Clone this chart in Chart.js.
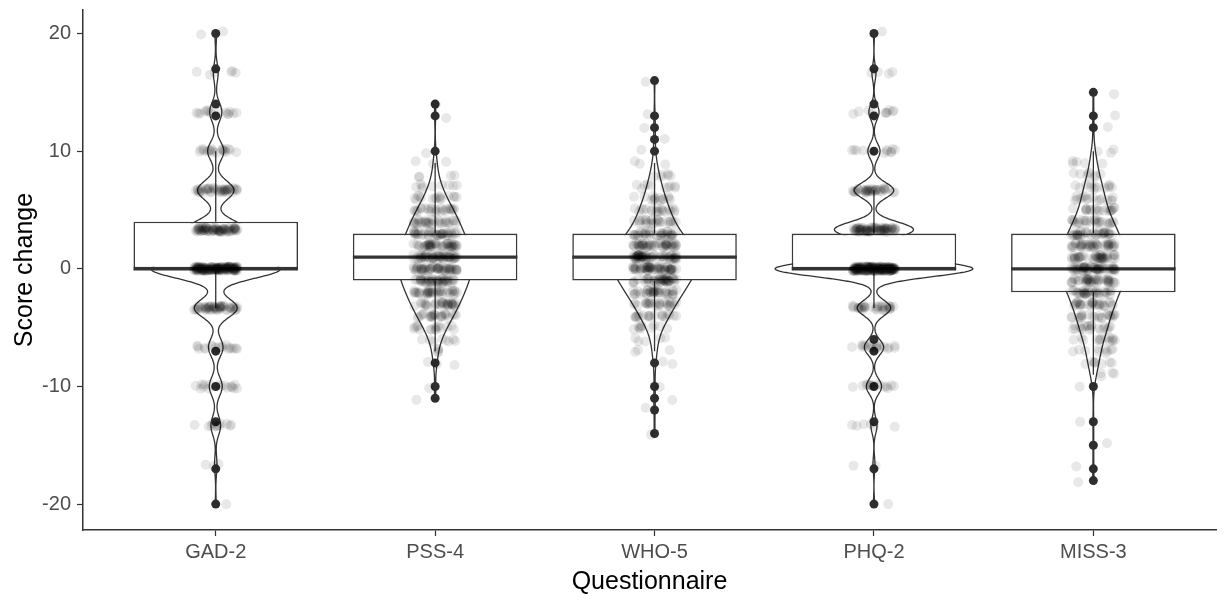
<!DOCTYPE html>
<html><head><meta charset="utf-8">
<script src="https://cdn.jsdelivr.net/npm/chart.js@4/dist/chart.umd.min.js"></script>
<style>html,body{margin:0;padding:0;background:#fff;}canvas{display:block;}</style>
</head><body>
<canvas id="c" width="1225" height="597"></canvas>
<script>
// ---------------- data ----------------
const categories = ['GAD-2', 'PSS-4', 'WHO-5', 'PHQ-2', 'MISS-3'];
const yTicks = [-20, -10, 0, 10, 20];

// box-plot statistics
const q1Values      = [0, -1, -1, 0, -2];
const medianValues  = [0, 1, 1, 0, 0];
const q3Values      = [4, 3, 3, 3, 3];
const whiskerLow    = [-3.33, -7, -7, -3.33, -9];
const whiskerHigh   = [10, 9, 9, 6.67, 10];
const gad2Outliers  = [20, 17, 14, 13, -7, -10, -13, -17, -20];
const pss4Outliers  = [14, 13, 10, -8, -10, -11];
const who5Outliers  = [16, 13, 12, 11, 10, -8, -10, -11, -12, -14];
const phq2Outliers  = [20, 17, 14, 13, 10, -6, -7, -10, -13, -17, -20];
const miss3Outliers = [15, 13, 12, -10, -13, -15, -17, -18];

// observed score changes (value -> number of respondents), estimated from the jittered points / violins
const gad2Values  = [-20, -16.67, -13.33, -10, -6.67, -3.33, 0, 3.33, 6.67, 10, 13.33, 16.67, 20];
const gad2Counts  = [1, 3, 12, 16, 18, 53, 160, 72, 45, 20, 15, 6, 2];
const pss4Values  = [-11,-10,-9,-8,-7,-6,-5,-4,-3,-2,-1,0,1,2,3,4,5,6,7,8,9,10,11,12,13,14];
const pss4Counts  = [1,1,0,3,4,8,16,25,33,40,46,51,52,46,39,33,25,16,9,4,3,1,0,0,1,1];
const who5Values  = [-14,-13,-12,-11,-10,-9,-8,-7,-6,-5,-4,-3,-2,-1,0,1,2,3,4,5,6,7,8,9,10,11,12,13,14,15,16];
const who5Counts  = [1,0,1,1,1,0,2,3,5,10,20,27,38,46,57,59,48,35,25,20,14,10,6,3,1,1,1,1,0,0,1];
const phq2Values  = [-20, -16.67, -13.33, -10, -6.67, -3.33, 0, 3.33, 6.67, 10, 13.33, 16.67, 20];
const phq2Counts  = [1, 2, 6, 15, 19, 33, 195, 78, 39, 12, 10, 4, 1];
const miss3Values = [-18,-17,-16,-15,-14,-13,-12,-11,-10,-9,-8,-7,-6,-5,-4,-3,-2,-1,0,1,2,3,4,5,6,7,8,9,10,11,12,13,14,15];
const miss3Counts = [1,1,0,1,0,1,0,0,1,4,8,10,14,20,23,30,35,42,55,43,42,35,27,20,16,13,8,5,3,0,1,1,0,1];
// kernel bandwidths of the violins
const bandwidths = [0.8, 0.85, 0.85, 0.65, 0.9];

// ---------------- style ----------------
const FONT = "'Liberation Sans', Arial, sans-serif";
const DARK = '#333333';
const BOX_WIDTH = 0.75, VIOLIN_WIDTH = 0.9, JITTER_W = 0.1, JITTER_H = 0.2;

const allValues = [gad2Values, pss4Values, who5Values, phq2Values, miss3Values];
const allCounts = [gad2Counts, pss4Counts, who5Counts, phq2Counts, miss3Counts];
const allOutliers = [gad2Outliers, pss4Outliers, who5Outliers, phq2Outliers, miss3Outliers];

// ---------------- derived layers ----------------
function density(vals, cnts, h, y) {
  let n = 0, s = 0;
  for (let k = 0; k < vals.length; k++) {
    const c = cnts[k]; if (!c) continue;
    n += c; const z = (y - vals[k]) / h; s += c * Math.exp(-0.5 * z * z);
  }
  return s / (n * h * Math.sqrt(2 * Math.PI));
}
const GRID = 512;
const dens = allValues.map((vals, g) => {
  const cnts = allCounts[g];
  const present = vals.filter((v, k) => cnts[k] > 0);
  const lo = Math.min(...present), hi = Math.max(...present);
  const ys = [], fs = [];
  for (let j = 0; j < GRID; j++) {
    const y = lo + (hi - lo) * j / (GRID - 1);
    ys.push(y); fs.push(density(vals, cnts, bandwidths[g], y));
  }
  return { ys, fs };
});
const fMax = Math.max(...dens.map(d => Math.max(...d.fs)));

const violinDatasets = dens.map((d, g) => {
  const right = d.ys.map((y, j) => ({ x: g + VIOLIN_WIDTH / 2 * d.fs[j] / fMax, y }));
  const left = d.ys.map((y, j) => ({ x: g - VIOLIN_WIDTH / 2 * d.fs[j] / fMax, y })).reverse();
  const pts = right.concat(left); pts.push(right[0]);
  return { type: 'line', data: pts, borderColor: DARK, borderWidth: 1.3, pointRadius: 0,
           fill: false, tension: 0.001, order: 5 };
});

const whiskerPts = [];
categories.forEach((c, g) => {
  whiskerPts.push({ x: g, y: q3Values[g] }, { x: g, y: whiskerHigh[g] }, { x: g, y: null },
                  { x: g, y: q1Values[g] }, { x: g, y: whiskerLow[g] }, { x: g, y: null });
});

// deterministic jitter offsets (layout only)
const hash = (a, b) => { const s = Math.sin(a * 12.9898 + b * 78.233) * 43758.5453; return s - Math.floor(s); };
const jitterPts = [];
allValues.forEach((vals, g) => {
  let k = 0;
  vals.forEach((v, i) => {
    for (let r = 0; r < allCounts[g][i]; r++, k++) {
      const u = hash(k + 1, g + 1), w = hash(k + 101, g + 31);
      jitterPts.push({ x: g + (2 * u - 1) * JITTER_W, y: v + (2 * w - 1) * JITTER_H });
    }
  });
});

const outlierPts = [];
allOutliers.forEach((arr, g) => arr.forEach(v => outlierPts.push({ x: g, y: v })));

const halfBoxPx = (ctx) => {
  const x = ctx.chart.scales.x;
  return Math.abs(x.getPixelForValue(BOX_WIDTH / 2) - x.getPixelForValue(0));
};

const datasets = [
  { type: 'scatter', data: jitterPts, pointRadius: 5, pointBackgroundColor: 'rgba(0,0,0,0.09)',
    pointBorderWidth: 0, order: 0 },
  { type: 'scatter', data: outlierPts, pointRadius: 4.5, pointBackgroundColor: '#2e2e2e',
    pointBorderWidth: 0, order: 1 },
  { type: 'scatter', data: medianValues.map((m, g) => ({ x: g, y: m })), pointStyle: 'line',
    pointRadius: halfBoxPx, pointBorderColor: DARK, pointBorderWidth: 3.2, order: 2 },
  { type: 'bar', data: categories.map((c, g) => ({ x: g, y: [q1Values[g], q3Values[g]] })),
    backgroundColor: '#ffffff', borderColor: '#3a3a3a', borderWidth: 1.6, borderSkipped: false,
    grouped: false, barPercentage: BOX_WIDTH, categoryPercentage: 1, order: 3 },
  { type: 'line', data: whiskerPts, borderColor: DARK, borderWidth: 1.3, pointRadius: 0,
    spanGaps: false, fill: false, order: 4 },
  ...violinDatasets
];

new Chart(document.getElementById('c'), {
  type: 'bar',
  data: { datasets },
  options: {
    responsive: false, animation: false, devicePixelRatio: 1, events: [],
    layout: { padding: { left: 0, right: 9, top: 10, bottom: 0 } },
    plugins: { legend: { display: false }, tooltip: { enabled: false } },
    scales: {
      x: {
        type: 'linear', min: -0.605, max: 4.559, offset: false,
        afterBuildTicks: s => { s.ticks = categories.map((c, i) => ({ value: i })); },
        afterFit: s => { s.height = 67; s.paddingLeft = 0; s.paddingRight = 0; },
        ticks: { callback: v => categories[v] ?? '', color: '#4D4D4D', autoSkip: false, maxRotation: 0,
                 font: { family: FONT, size: 20 }, padding: 4 },
        grid: { display: true, drawOnChartArea: false, drawTicks: true, tickLength: 6, tickColor: DARK, tickWidth: 1.2, offset: false },
        border: { display: true, color: DARK, width: 1.5 },
        title: { display: true, text: 'Questionnaire', color: '#000', font: { family: FONT, size: 25 },
                 padding: { top: 0, bottom: 0 } }
      },
      y: {
        type: 'linear', min: -22.2, max: 22,
        afterBuildTicks: s => { s.ticks = yTicks.map(v => ({ value: v })); },
        afterFit: s => { s.width = 83; s.paddingTop = 0; s.paddingBottom = 0; },
        ticks: { callback: v => String(v), color: '#4D4D4D', font: { family: FONT, size: 20 }, padding: 6 },
        grid: { display: true, drawOnChartArea: false, drawTicks: true, tickLength: 6, tickColor: DARK, tickWidth: 1.2 },
        border: { display: true, color: DARK, width: 1.5 },
        title: { display: true, text: 'Score change', color: '#000', font: { family: FONT, size: 25 },
                 padding: { top: 10, bottom: 0 } }
      }
    }
  }
});
</script>
</body></html>
